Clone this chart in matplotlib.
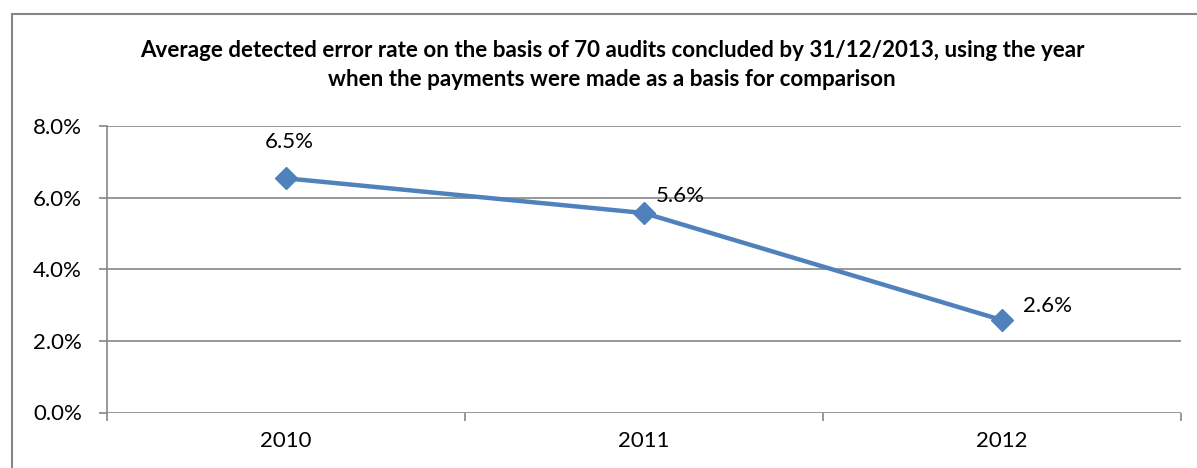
import matplotlib.pyplot as plt
from matplotlib.patches import Rectangle
from matplotlib.ticker import FuncFormatter

plt.rcParams['font.family'] = ['Lato', 'DejaVu Sans']

# data
years = ['2010', '2011', '2012']
error_rate = [0.0654, 0.0557, 0.0258]
y_ticks = [0.0, 0.02, 0.04, 0.06, 0.08]
title = ('Average detected error rate on the basis of 70 audits concluded by 31/12/2013, using the year\n'
         'when the payments were made as a basis for comparison')

grey = '#868686'
blue = '#4F81BD'

fig = plt.figure(figsize=(11.97, 4.68), dpi=100)
ax = fig.add_axes([107 / 1197, 55.5 / 468, 1074 / 1197, 286.5 / 468])

# chart area border (runs off the right and bottom of the picture)
fig.patches.append(Rectangle((12 / 1197, -0.2), 1.2, 1.2 - 14 / 468, transform=fig.transFigure,
                             fill=False, edgecolor=grey, linewidth=1.5))

x = list(range(len(years)))
ax.plot(x, error_rate, color=blue, linewidth=3.2, marker='D', markersize=11, zorder=3)

# data labels
offsets = [(2, 26), (26, 12.5), (33, 10)]
for xi, v, off in zip(x, error_rate, offsets):
    ax.annotate(f'{v * 100:.1f}%', (xi, v), xytext=off, textcoords='offset points',
                ha='center', va='center', fontsize=16, zorder=4)

ax.set_xlim(-0.5, 2.5)
ax.set_ylim(0, 0.08)
ax.set_yticks(y_ticks)
ax.yaxis.set_major_formatter(FuncFormatter(lambda v, p: f'{v * 100:.1f}%'))
ax.grid(axis='y', color=grey, linewidth=1.2)
ax.set_axisbelow(True)

ax.set_xticks(x)
ax.set_xticklabels(years)
ax.set_xticks([-0.5, 0.5, 1.5, 2.5], minor=True)
ax.tick_params(axis='x', which='major', length=0, pad=13, labelsize=16)
ax.tick_params(axis='x', which='minor', length=6, color=grey, width=1.2)
ax.tick_params(axis='y', length=6, color=grey, width=1.2, pad=12, labelsize=16)

for s in ['top', 'right', 'bottom']:
    ax.spines[s].set_visible(False)
ax.spines['left'].set_color(grey)
ax.spines['left'].set_linewidth(1.2)

fig.text(612 / 1197, 1 - 65 / 468, title, ha='center', va='center', fontsize=16.1,
         fontweight='bold', linespacing=1.5)

fig.savefig('out.png', dpi=100)
